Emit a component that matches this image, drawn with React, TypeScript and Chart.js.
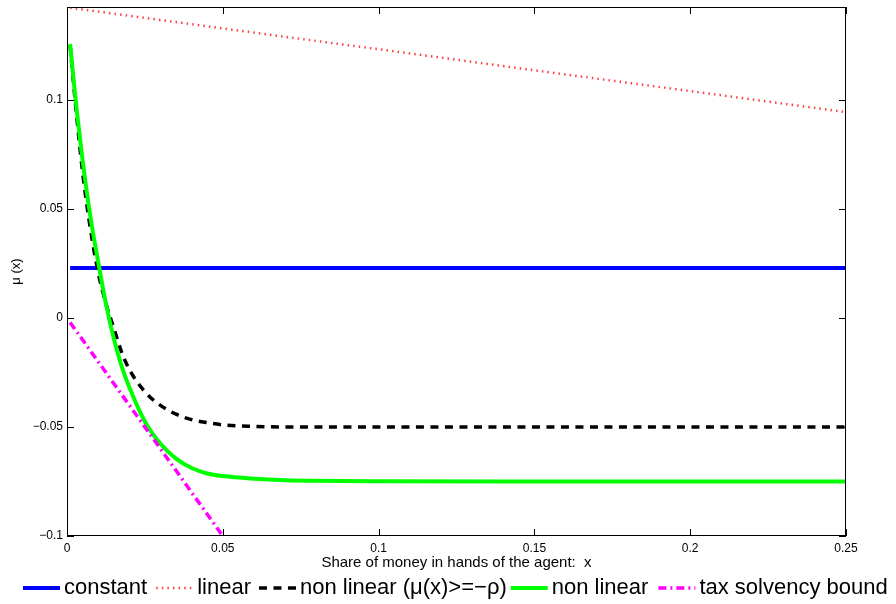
import { useEffect, useRef } from 'react';
import { Chart, registerables } from 'chart.js';

Chart.register(...registerables);

const FONT = '"Liberation Sans", Arial, Helvetica, sans-serif';

// ---- data ----
const xTickLabels = ['0', '0.05', '0.1', '0.15', '0.2', '0.25'];
const yTickLabels = ['\u22120.1', '\u22120.05', '0', '0.05', '0.1'];

const seriesNames = [
  'constant',
  'linear',
  'non linear (\u03bc(x)>=\u2212\u03c1)',
  'non linear',
  'tax solvency bound',
];

const constantX = [0.001, 0.25];
const constantY = [0.0229, 0.0229];

const linearX = [0.001, 0.25];
const linearY = [0.1423, 0.0945];

const nonLinearX = [
  0.001, 0.0025, 0.005, 0.0075, 0.01, 0.0125, 0.015, 0.0175, 0.02, 0.025, 0.03,
  0.035, 0.04, 0.045, 0.05, 0.06, 0.07, 0.08, 0.1, 0.15, 0.2, 0.25,
];
const nonLinearBoundedY = [
  0.125, 0.1015, 0.067, 0.041, 0.021, 0.0066, -0.0045, -0.0155, -0.0236, -0.0338,
  -0.0401, -0.0441, -0.0466, -0.048, -0.049, -0.0497, -0.05, -0.05, -0.05, -0.05,
  -0.05, -0.05,
];
const nonLinearY = [
  0.1257, 0.1038, 0.0725, 0.0466, 0.0258, 0.0065, -0.0093, -0.022, -0.0318, -0.0475,
  -0.0577, -0.0645, -0.0688, -0.0713, -0.0725, -0.0737, -0.0744, -0.0747, -0.0749,
  -0.075, -0.075, -0.075,
];

const taxX = [0.001, 0.05];
const taxY = [-0.002, -0.1];

const legendGaps = [9, 8, 4, 10, 0];

function pts(xs: number[], ys: number[]) {
  return xs.map((x, i) => ({ x, y: ys[i] }));
}

const framePlugin = {
  id: 'matlabFrame',
  afterDatasetsDraw(chart: any) {
    const { ctx, chartArea, scales } = chart;
    const { left, right, top, bottom } = chartArea;
    const tl = 7;
    ctx.save();
    ctx.strokeStyle = '#000';
    ctx.lineWidth = 1;
    ctx.setLineDash([]);
    ctx.strokeRect(left + 0.5, top + 0.5, right - left - 1, bottom - top - 1);
    ctx.beginPath();
    scales.x.ticks.forEach((t: any) => {
      const px = Math.round(scales.x.getPixelForValue(t.value)) + 0.5;
      ctx.moveTo(px, bottom);
      ctx.lineTo(px, bottom - tl);
      ctx.moveTo(px, top);
      ctx.lineTo(px, top + tl);
    });
    scales.y.ticks.forEach((t: any) => {
      const py = Math.round(scales.y.getPixelForValue(t.value)) + 0.5;
      ctx.moveTo(left, py);
      ctx.lineTo(left + tl, py);
      ctx.moveTo(right, py);
      ctx.lineTo(right - tl, py);
    });
    ctx.stroke();
    ctx.restore();
  },
};

const legendPlugin = {
  id: 'bottomLegend',
  afterDraw(chart: any) {
    const ctx = chart.ctx;
    const y = 588;
    let x = 23;
    ctx.save();
    ctx.font = `22px ${FONT}`;
    ctx.textBaseline = 'middle';
    ctx.textAlign = 'left';
    chart.data.datasets.forEach((ds: any, i: number) => {
      ctx.save();
      ctx.strokeStyle = ds.borderColor;
      ctx.lineWidth = ds.borderWidth;
      ctx.lineCap = 'butt';
      ctx.setLineDash(ds.borderDash || []);
      ctx.beginPath();
      ctx.moveTo(x, y);
      ctx.lineTo(x + 37, y);
      ctx.stroke();
      ctx.restore();
      x += 41;
      ctx.fillStyle = '#000';
      ctx.fillText(ds.label, x, y);
      x += ctx.measureText(ds.label).width + legendGaps[i];
    });
    ctx.restore();
  },
};

export default function App() {
  const canvasRef = useRef<HTMLCanvasElement | null>(null);

  useEffect(() => {
    if (!canvasRef.current) return;
    const chart = new Chart(canvasRef.current, {
      type: 'line',
      data: {
        datasets: [
          {
            label: seriesNames[0],
            data: pts(constantX, constantY),
            borderColor: '#0000ff',
            borderWidth: 4,
            order: 5,
          },
          {
            label: seriesNames[1],
            data: pts(linearX, linearY),
            borderColor: '#ff4040',
            borderWidth: 2.5,
            borderDash: [1.5, 4.1],
            order: 4,
          },
          {
            label: seriesNames[2],
            data: pts(nonLinearX, nonLinearBoundedY),
            borderColor: '#000000',
            borderWidth: 3.5,
            borderDash: [8, 6.5],
            cubicInterpolationMode: 'monotone',
            order: 3,
          },
          {
            label: seriesNames[3],
            data: pts(nonLinearX, nonLinearY),
            borderColor: '#00ff00',
            borderWidth: 4,
            cubicInterpolationMode: 'monotone',
            order: 2,
          },
          {
            label: seriesNames[4],
            data: pts(taxX, taxY),
            borderColor: '#ff00ff',
            borderWidth: 3.5,
            borderDash: [8, 4, 2, 4],
            order: 1,
          },
        ] as any,
      },
      options: {
        animation: false,
        responsive: false,
        layout: { padding: { left: 0, right: 50, top: 7, bottom: 32.6 } },
        elements: { point: { radius: 0 }, line: { fill: false } },
        plugins: { legend: { display: false }, tooltip: { enabled: false } },
        scales: {
          x: {
            type: 'linear',
            min: 0,
            max: 0.25,
            grid: { display: false, drawTicks: false },
            border: { display: false },
            ticks: {
              stepSize: 0.05,
              includeBounds: false,
              autoSkip: false,
              maxRotation: 0,
              padding: 5,
              color: '#000',
              font: { family: FONT, size: 12 },
              callback: (_v: any, i: number) => xTickLabels[i],
            },
            title: {
              display: true,
              text: 'Share of money in hands of the agent:  x',
              color: '#000',
              font: { family: FONT, size: 15 },
              padding: 0,
            },
            afterFit: (s: any) => {
              s.height = 35.4;
              s.paddingLeft = 0;
              s.paddingRight = 0;
            },
          },
          y: {
            type: 'linear',
            min: -0.1,
            max: 0.1427,
            grid: { display: false, drawTicks: false },
            border: { display: false },
            ticks: {
              stepSize: 0.05,
              includeBounds: false,
              autoSkip: false,
              padding: 4,
              color: '#000',
              font: { family: FONT, size: 12 },
              callback: (_v: any, i: number) => yTickLabels[i],
            },
            title: {
              display: true,
              text: '\u03bc (x)',
              color: '#000',
              font: { family: FONT, size: 13 },
              padding: { top: 9, bottom: 0 },
            },
            afterFit: (s: any) => {
              s.width = 67;
              s.paddingTop = 0;
              s.paddingBottom = 0;
            },
          },
        },
      } as any,
      plugins: [framePlugin, legendPlugin],
    });
    return () => chart.destroy();
  }, []);

  return (
    <div style={{ position: 'fixed', left: 0, top: 0, width: 896, height: 604, background: '#fff' }}>
      <canvas ref={canvasRef} width={896} height={604} style={{ display: 'block' }} />
    </div>
  );
}
